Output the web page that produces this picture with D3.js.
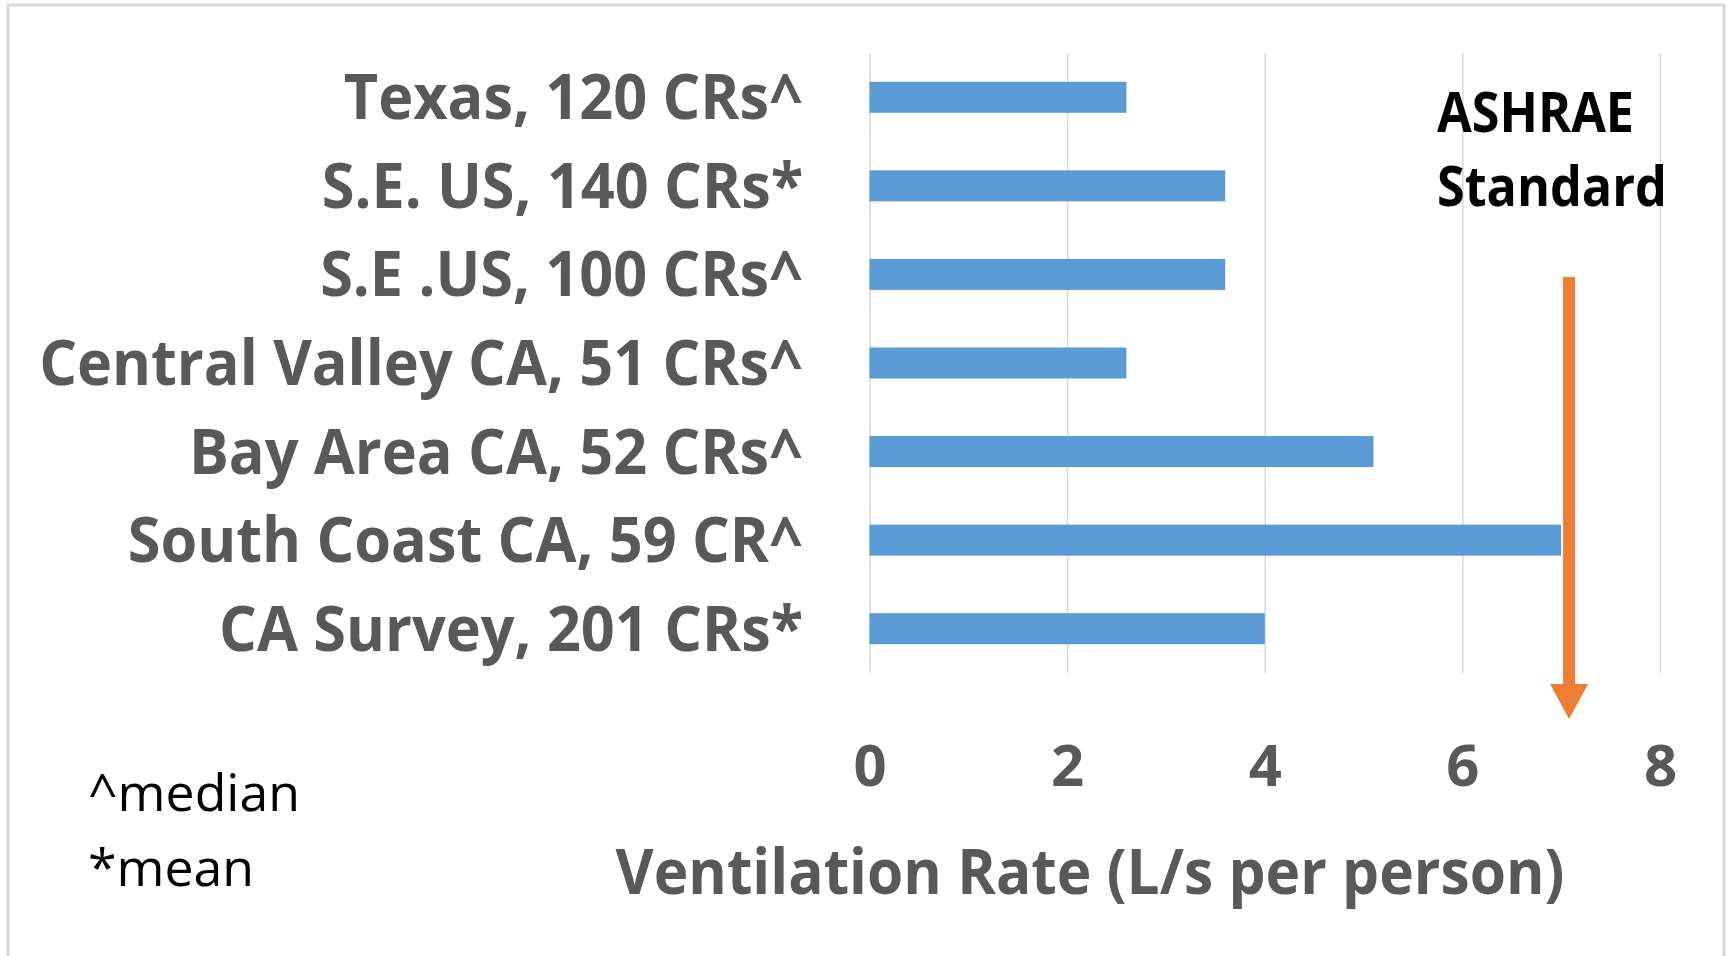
<!DOCTYPE html>
<html>
<head>
<meta charset="utf-8">
<script src="https://cdn.jsdelivr.net/npm/d3@7"></script>
<style>
  body { margin: 0; background: #fff; }
  svg { display: block; }
  text { font-family: "Open Sans", "Noto Sans", sans-serif; }
</style>
</head>
<body>
<svg id="chart" width="1730" height="956"></svg>
<script>
// Classroom ventilation rates by study
const categories = [
  "Texas, 120 CRs^",
  "S.E. US, 140 CRs*",
  "S.E .US, 100 CRs^",
  "Central Valley CA, 51 CRs^",
  "Bay Area CA, 52 CRs^",
  "South Coast CA, 59 CR^",
  "CA Survey, 201 CRs*"
];
const ventilationRates = [2.6, 3.6, 3.6, 2.6, 5.1, 7.0, 4.0];
const xTicks = [0, 2, 4, 6, 8];
const xDomain = [0, 8];
const ashraeStandard = 7.08;
const ashraeLabel = ["ASHRAE", "Standard"];
const footnotes = ["^median", "*mean"];
const axisTitle = "Ventilation Rate (L/s per person)";

const svg = d3.select("#chart");
const textGrey = "#595959";
const barBlue = "#5b9bd5";
const arrowOrange = "#ed7d31";

// outer frame
svg.append("rect")
  .attr("x", 8).attr("y", 5)
  .attr("width", 1716).attr("height", 980)
  .attr("fill", "#fff")
  .attr("stroke", "#d9d9d9").attr("stroke-width", 3);

const plot = { left: 869.5, right: 1660, top: 53, bottom: 673 };

const x = d3.scaleLinear().domain(xDomain).range([plot.left, plot.right]);
const y = d3.scaleBand().domain(categories)
  .range([plot.top, plot.bottom])
  .paddingInner(0.65).paddingOuter(0.325);

// gridlines + tick labels
const axis = d3.axisBottom(x)
  .tickValues(xTicks)
  .tickFormat(d3.format("d"))
  .tickSizeInner(-(plot.bottom - plot.top))
  .tickSizeOuter(0);

const gAxis = svg.append("g")
  .attr("transform", `translate(0,${plot.bottom})`)
  .call(axis);
gAxis.select(".domain").remove();
gAxis.selectAll(".tick line").attr("stroke", "#d9d9d9").attr("stroke-width", 1.5);
gAxis.selectAll(".tick text")
  .attr("y", 113).attr("dy", 0)
  .attr("fill", textGrey)
  .style("font-size", "58px")
  .style("font-weight", 700);

// bars
svg.append("g").selectAll("rect")
  .data(categories)
  .join("rect")
  .attr("x", x(0))
  .attr("y", d => y(d))
  .attr("width", (d, i) => x(ventilationRates[i]) - x(0))
  .attr("height", y.bandwidth())
  .attr("fill", barBlue);

// horizontal fit helper: scale text to a target width
function widthRatio(str, size, weight, target) {
  const t = svg.append("text").style("font-size", size + "px").style("font-weight", weight).text(str);
  const w = t.node().getComputedTextLength();
  t.remove();
  return target / w;
}

// category labels
const catSize = 62;
const kCat = widthRatio("Central Valley CA, 51 CRs^", catSize, 700, 764);
svg.append("g").selectAll("text")
  .data(categories)
  .join("text")
  .attr("transform", d => `translate(803,${y(d) + y.bandwidth() / 2 + 22}) scale(${kCat},1)`)
  .attr("text-anchor", "end")
  .attr("fill", textGrey)
  .style("font-size", catSize + "px")
  .style("font-weight", 700)
  .text(d => d);

// axis title
const kTitle = widthRatio(axisTitle, 62, 700, 949);
svg.append("text")
  .attr("transform", `translate(1090,894) scale(${kTitle},1)`)
  .attr("text-anchor", "middle")
  .attr("fill", textGrey)
  .style("font-size", "62px")
  .style("font-weight", 700)
  .text(axisTitle);

// footnotes
const kFoot = widthRatio(footnotes[0], 52, 400, 212);
svg.append("g").selectAll("text")
  .data(footnotes)
  .join("text")
  .attr("transform", (d, i) => `translate(88,${811 + i * 75}) scale(${kFoot},1)`)
  .attr("fill", "#000")
  .style("font-size", "52px")
  .style("font-weight", 400)
  .text(d => d);

// ASHRAE annotation
const kAsh = widthRatio(ashraeLabel[1], 55, 700, 230);
svg.append("g").selectAll("text")
  .data(ashraeLabel)
  .join("text")
  .attr("transform", (d, i) => `translate(1437,${132 + i * 74}) scale(${kAsh},1)`)
  .attr("fill", "#000")
  .style("font-size", "55px")
  .style("font-weight", 700)
  .text(d => d);

// arrow marking the standard
const ax = x(ashraeStandard);
svg.append("line")
  .attr("x1", ax).attr("x2", ax)
  .attr("y1", 277).attr("y2", 690)
  .attr("stroke", arrowOrange).attr("stroke-width", 12);
svg.append("path")
  .attr("d", `M${ax - 19},684 L${ax + 19},684 L${ax},719 Z`)
  .attr("fill", arrowOrange);
</script>
</body>
</html>
